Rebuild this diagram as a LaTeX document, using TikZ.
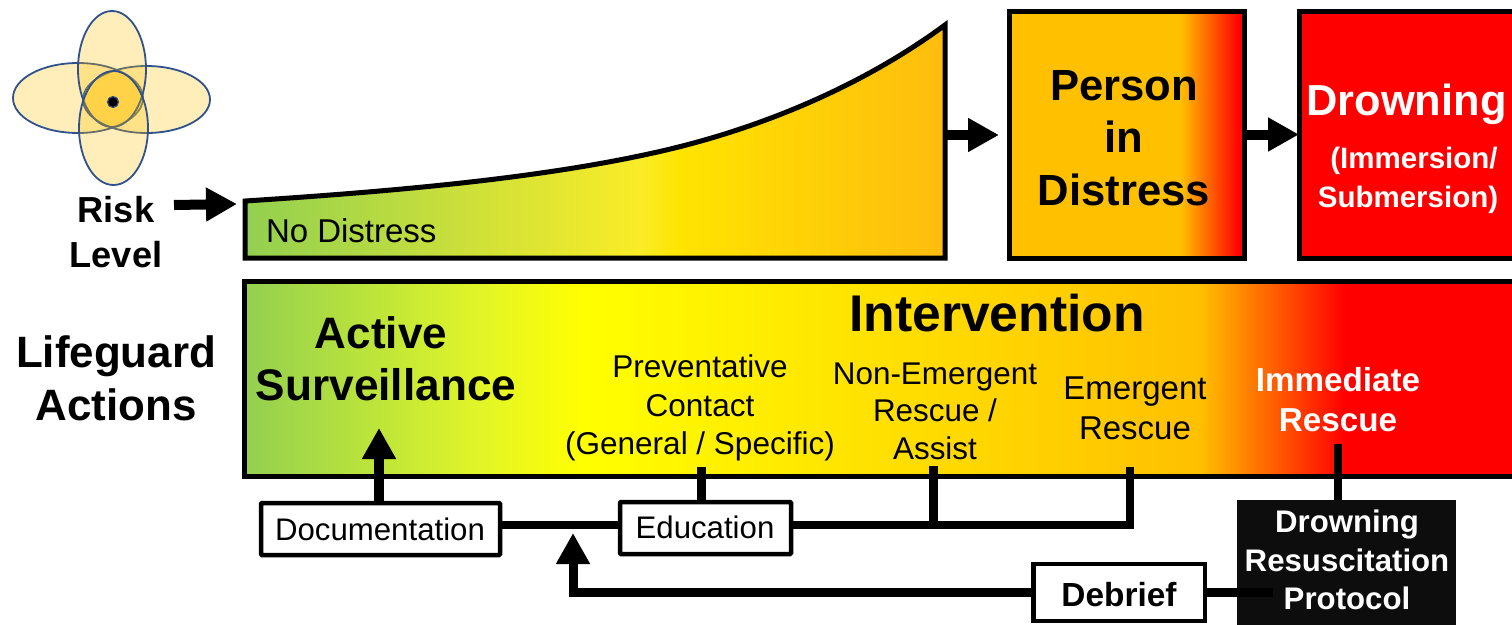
\documentclass[tikz,border=0pt]{standalone}
\usepackage{fontspec}
\setmainfont{Liberation Sans}
\usetikzlibrary{arrows.meta}
\definecolor{cGreen}{RGB}{146,208,80}
\definecolor{cLime}{RGB}{225,245,40}
\definecolor{cYellow}{RGB}{255,255,0}
\definecolor{cRampY}{RGB}{250,236,40}
\definecolor{cRampZ}{RGB}{255,228,0}
\definecolor{cRampE}{RGB}{254,188,14}
\definecolor{cGold}{RGB}{255,192,0}
\definecolor{cRed}{RGB}{255,0,0}
\definecolor{cBlue}{RGB}{47,82,143}
\definecolor{cNear}{RGB}{13,13,13}
\definecolor{cPetal}{RGB}{255,192,0}
\pgfdeclarehorizontalshading{barshade}{100bp}{color(0bp)=(cGreen); color(25bp)=(cGreen); color(34.2bp)=(cLime); color(38.2bp)=(cYellow); color(62.3bp)=(cGold); color(68bp)=(cRed); color(100bp)=(cRed)}
\pgfdeclarehorizontalshading{rampshade}{100bp}{color(0bp)=(cGreen); color(25bp)=(cGreen); color(53.2bp)=(cRampY); color(56.1bp)=(cRampZ); color(75bp)=(cRampE); color(100bp)=(cRampE)}
\pgfdeclarehorizontalshading{personshade}{100bp}{color(0bp)=(cGold); color(61.5bp)=(cGold); color(74bp)=(cRed); color(100bp)=(cRed)}
\newcommand{\fs}[2]{\fontsize{#1pt}{#2pt}\selectfont}
\tikzset{
  x=1pt,y=-1pt,
  lbl/.style={inner sep=0,outer sep=0,align=center,text=black},
  panel/.style={draw=black,line width=5pt,inner sep=0,outer sep=0},
  whitebox/.style={draw=black,fill=white,line width=4.5pt,inner sep=0,outer sep=0,rounded corners=1pt},
  fat/.style={-{Triangle[length=31pt,width=32pt]},line width=10pt,black},
  wire/.style={line width=9pt,black},
  petal/.style={draw=cBlue,line width=1.8pt,fill=cPetal,fill opacity=.27}
}
\begin{document}
\begin{tikzpicture}
\useasboundingbox (0,0) rectangle (1512,624);
\clip (0,0) rectangle (1512,624);
% risk petals
\draw[petal] (78,98) ellipse [x radius=65,y radius=35];
\draw[petal] (146.5,99.5) ellipse [x radius=63.5,y radius=33.5];
\draw[petal] (112,69) ellipse [x radius=34,y radius=58];
\draw[petal] (113.5,128) ellipse [x radius=34.5,y radius=57];
\node[circle,draw=cBlue,fill=black,line width=1.2pt,minimum size=11pt,inner sep=0] (core) at (113,102) {};
% ramp
\draw[line width=5pt,black,miter limit=10,shading=rampshade,shading angle=0]
  (245,201) .. controls (400,191) and (540,178) .. (653,153)
  .. controls (740,134) and (850,95) .. (945,25) -- (945,258) -- (245,258) -- cycle;
\node[lbl,anchor=base west,font=\fs{33}{33}] (nodist) at (266,242) {No Distress};
% top boxes
\node[panel,shading=personshade,minimum width=235pt,minimum height=247pt] (person) at (1126.5,134.5) {};
\node[panel,fill=cRed,minimum width=240pt,minimum height=247pt] (drown) at (1419,134.5) {};
\node[lbl,font=\bfseries\fs{43.6}{52.5}] (persontxt) at (1124,138) {Person\\in\\Distress};
\node[lbl,anchor=base,text=white,font=\bfseries\fs{43.4}{43}] (drowntxt) at (1406.5,115) {Drowning};
\node[lbl,anchor=base,text=white,font=\bfseries\fs{29.5}{29.5}] (imm) at (1414,168) {(Immersion/};
\node[lbl,anchor=base,text=white,font=\bfseries\fs{29.5}{29.5}] (sub) at (1408,207) {Submersion)};
% action bar
\node[panel,shading=barshade,minimum width=1280pt,minimum height=195pt,anchor=north west] (bar) at (244.5,281) {};
% left labels
\node[lbl,font=\bfseries\fs{36.2}{45}] (risk) at (116,232) {Risk\\Level};
\node[lbl,font=\bfseries\fs{43.9}{53}] (guard) at (116,378.5) {Lifeguard\\Actions};
% bar labels
\node[lbl,anchor=base,font=\bfseries\fs{44}{44}] (active) at (381,348) {Active};
\node[lbl,anchor=base,font=\bfseries\fs{44.2}{44}] (surveil) at (386,400.5) {Surveillance};
\node[lbl,anchor=base,font=\bfseries\fs{51.6}{51}] (interv) at (997,331) {Intervention};
\node[lbl,font=\fs{31.5}{38.5}] (prev) at (700,408) {Preventative\\Contact\\(General / Specific)};
\node[lbl,font=\fs{31.4}{37.5}] (nonem) at (935,411) {Non-Emergent\\Rescue /\\Assist};
\node[lbl,font=\fs{33}{40}] (emerg) at (1135,408) {Emergent\\Rescue};
\node[lbl,text=white,font=\bfseries\fs{33.2}{40}] (immed) at (1338,400) {Immediate\\Rescue};
% lower boxes
\node[whitebox,minimum width=239pt,minimum height=52pt] (doc) at (380.5,529) {};
\node[whitebox,minimum width=171pt,minimum height=52pt] (edu) at (705.5,528) {};
\node[panel,draw=black,line width=4.5pt,fill=white,minimum width=171.5pt,minimum height=57pt] (deb) at (1119,592.5) {};
\node[draw=cNear,fill=cNear,line width=1pt,inner sep=0,outer sep=0,minimum width=218pt,minimum height=130pt,anchor=north west] (proto) at (1237.5,500) {};
% connector ends
\coordinate (rampE) at (945,135);
\coordinate (personIn) at (999,135);
\coordinate (surv) at (379,428);
\coordinate (prevE) at (701,467);
\coordinate (nonE) at (933.5,466);
\coordinate (emE) at (1129.5,467);
\coordinate (immE) at (1338,444);
\coordinate (merge) at (573,533);
\coordinate (protoIn) at (1273,592.5);
\coordinate (riskA) at (174,205);
\coordinate (riskB) at (237,204);
% connectors
\draw[fat] (surv |- doc.north) -- (surv);
\draw[wire,line width=7.5pt] ([yshift=4pt]doc.east) -- ([yshift=3pt]edu.west);
\draw[wire] (prevE) -- (prevE |- edu.north);
\draw[wire,line width=8pt] ([yshift=3pt]edu.east) -| (emE);
\draw[wire] (nonE) -- (nonE |- edu.east);
\draw[wire,line width=8.5pt] (immE) -- (immE |- proto.north);
\draw[fat,line width=9pt] (deb.west) -| (merge);
\draw[wire] (deb.east) -- (protoIn);
\draw[fat] (rampE) -- (personIn);
\draw[fat] (person.east) -- (drown.west);
\draw[fat] (riskA) -- (riskB);
% box labels
\node[lbl,anchor=base,font=\fs{31.2}{31}] (doctxt) at (380,540) {Documentation};
\node[lbl,anchor=base,font=\fs{31.2}{31}] (edutxt) at (705,538) {Education};
\node[lbl,anchor=base,font=\bfseries\fs{33.4}{33}] (debtxt) at (1119,606) {Debrief};
\node[lbl,text=white,font=\bfseries\fs{31.2}{38.5}] (prototxt) at (1347,560) {Drowning\\Resuscitation\\Protocol};
\end{tikzpicture}
\end{document}
